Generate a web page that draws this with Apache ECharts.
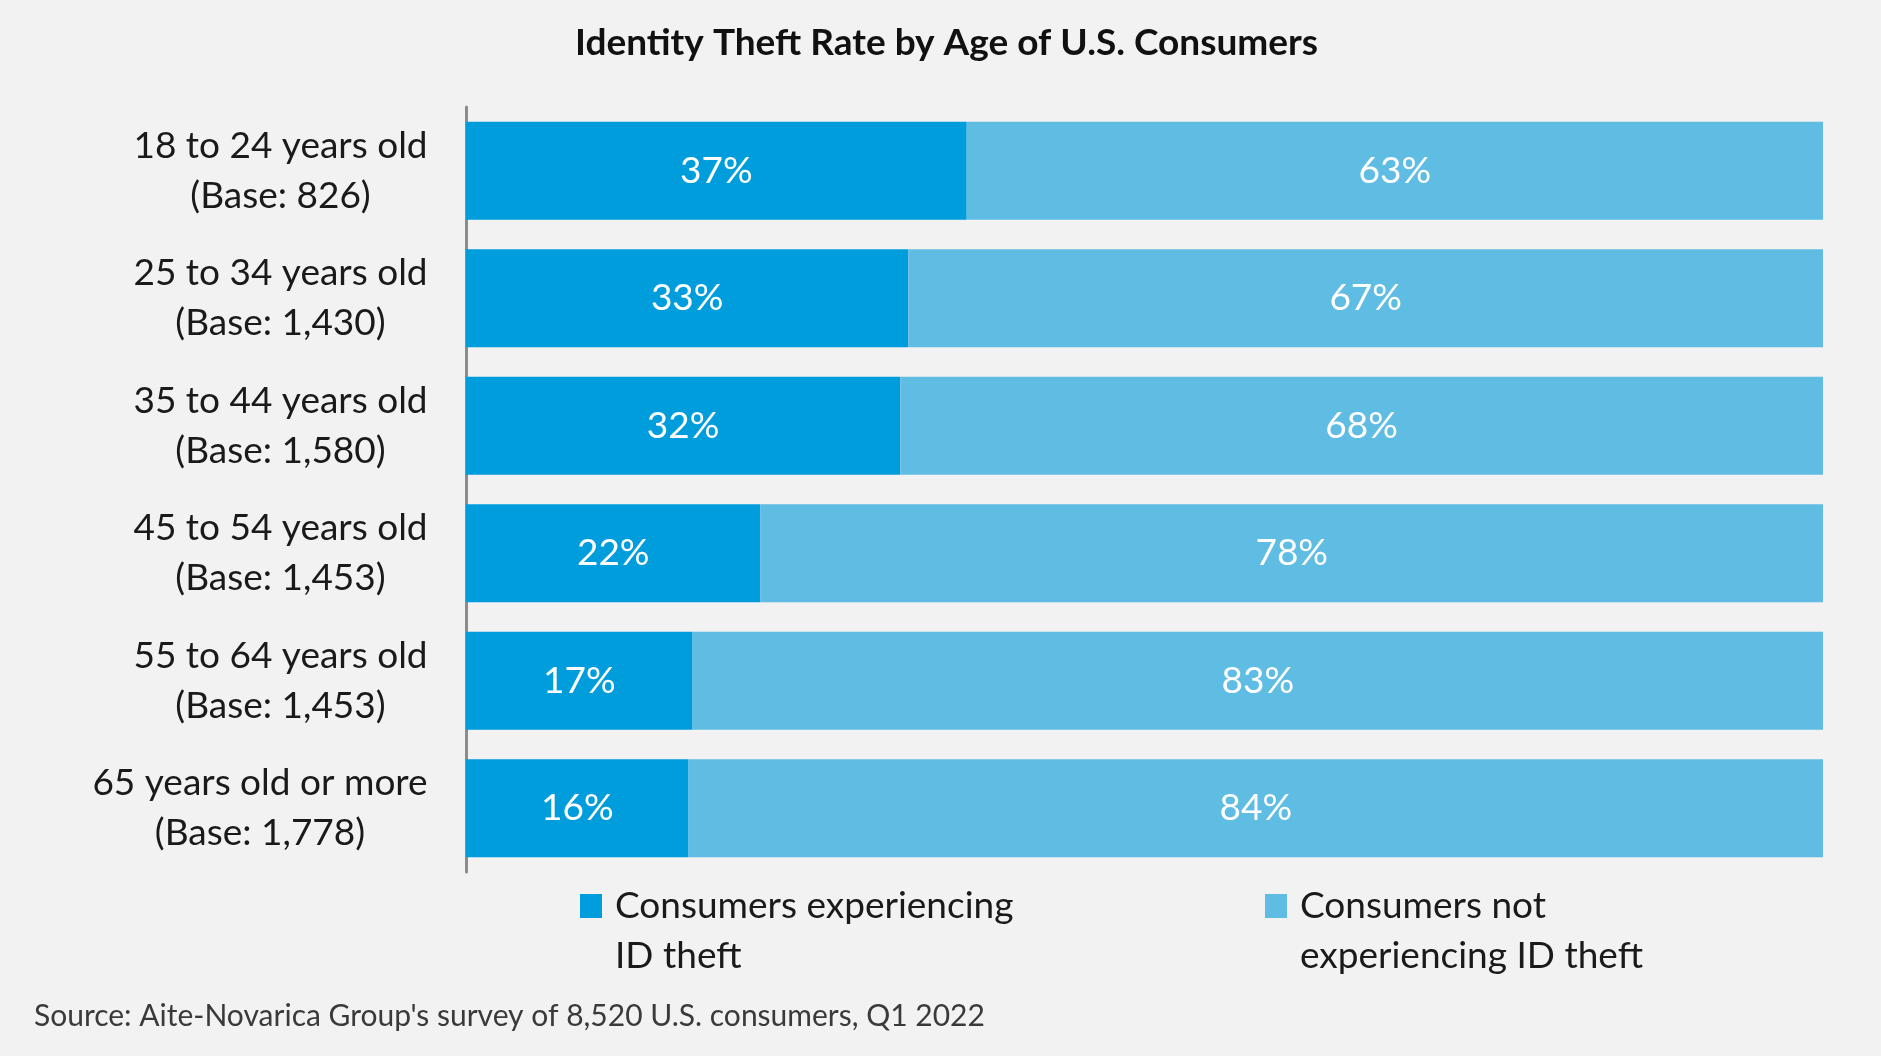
<!DOCTYPE html>
<html><head><meta charset="utf-8">
<script src="https://cdn.jsdelivr.net/npm/echarts@6/dist/echarts.min.js"></script>
<style>html,body{margin:0;padding:0;background:#f2f2f2;}#c{width:1881px;height:1056px;}</style>
</head><body><div id="c"></div>
<script>
const categories = ["18 to 24 years old", "25 to 34 years old", "35 to 44 years old", "45 to 54 years old", "55 to 64 years old", "65 years old or more"];
const bases = ["(Base: 826)", "(Base: 1,430)", "(Base: 1,580)", "(Base: 1,453)", "(Base: 1,453)", "(Base: 1,778)"];
const theft = [36.9, 32.6, 32.0, 21.7, 16.7, 16.4];
const noTheft = [63.1, 67.4, 68.0, 78.3, 83.3, 83.6];
const seriesNames = ["Consumers experiencing\nID theft", "Consumers not\nexperiencing ID theft"];
const titleText = "Identity Theft Rate by Age of U.S. Consumers";
const sourceText = "Source: Aite-Novarica Group's survey of 8,520 U.S. consumers, Q1 2022";

const FONT = 'Lato';
const LBL = 37;
const TITLE_SIZE = 37;
const cv = document.createElement('canvas').getContext('2d');
cv.font = LBL + 'px ' + FONT;
const rich = {};
categories.forEach((c, i) => {
  const w = Math.ceil(Math.max(cv.measureText(c).width, cv.measureText(bases[i]).width));
  rich['r' + i] = { width: w, align: 'center', fontSize: LBL, fontFamily: FONT, color: '#1a1a1a', lineHeight: 50 };
});
cv.font = 'bold ' + TITLE_SIZE + 'px ' + FONT;
const titleW = cv.measureText(titleText).width;

const chart = echarts.init(document.getElementById('c'), null, { renderer: 'canvas' });
const labelStyle = { show: true, position: 'inside', color: '#ffffff', fontSize: 37, fontFamily: FONT,
  formatter: p => Math.round(p.value) + '%' };
const legendIcon = 'path://M0,0h0.01v0.01h-0.01z M0,13h22v24h-22z M0,100h0.01v-0.01h-0.01z';
const legendText = { fontFamily: FONT, fontSize: LBL, color: '#1a1a1a', lineHeight: 50, padding: [0, 0, 0, 8] };
chart.setOption({
  backgroundColor: '#f2f2f2',
  animation: false,
  title: {
    text: titleText, left: Math.round(947 - titleW / 2) - 5, top: 18,
    textStyle: { fontFamily: FONT, fontWeight: 'bold', fontSize: TITLE_SIZE, color: '#111', lineHeight: 40 }
  },
  grid: { left: 466, right: 58, top: 107, bottom: 184 },
  xAxis: { type: 'value', min: 0, max: 100, show: false },
  yAxis: {
    type: 'category', inverse: true, data: categories,
    axisLine: { show: true, lineStyle: { color: '#8c8c8c', width: 3 } },
    axisTick: { show: false },
    axisLabel: {
      margin: 38, align: 'right',
      formatter: (v, i) => '{r' + i + '|' + v + '}\n{r' + i + '|' + bases[i] + '}',
      rich: rich
    }
  },
  legend: [
    { data: [seriesNames[0]], left: 580, top: 881, padding: 0, itemWidth: 22, itemHeight: 100,
      icon: legendIcon, textStyle: legendText },
    { data: [seriesNames[1]], left: 1265, top: 881, padding: 0, itemWidth: 22, itemHeight: 100,
      icon: legendIcon, textStyle: legendText }
  ],
  graphic: [{
    type: 'text', left: 34, top: 1001,
    style: { text: sourceText, fontFamily: FONT, fontSize: 30, fill: '#3a3a3a' }
  }],
  series: [
    { name: seriesNames[0], type: 'bar', stack: 't', data: theft, barCategoryGap: '23%',
      itemStyle: { color: '#009ddc' }, label: labelStyle },
    { name: seriesNames[1], type: 'bar', stack: 't', data: noTheft, barCategoryGap: '23%',
      itemStyle: { color: '#5fbce3' }, label: labelStyle }
  ]
});
</script></body></html>
